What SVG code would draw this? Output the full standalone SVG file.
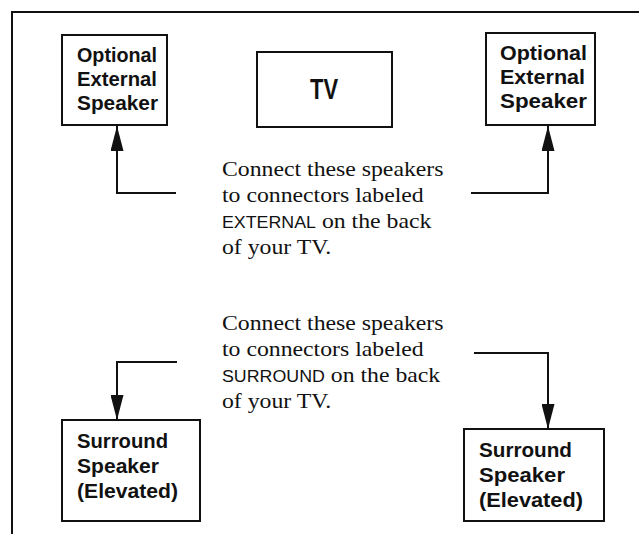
<svg xmlns="http://www.w3.org/2000/svg" width="639" height="534" viewBox="0 0 639 534">
<style>
.box{fill:#fff;stroke:#111;stroke-width:2}
.lbl{font-family:"Liberation Sans",Arial,sans-serif;font-weight:bold;font-size:21px;fill:#111}
.tv{font-family:"Liberation Sans",Arial,sans-serif;font-weight:bold;font-size:29px;fill:#111}
.body{font-family:"Liberation Serif","Times New Roman",serif;font-size:22px;fill:#111}
.sc{font-family:"Liberation Sans",Arial,sans-serif;font-size:16.5px}
.conn{fill:none;stroke:#111;stroke-width:2}
.frame{fill:none;stroke:#111;stroke-width:2}
</style>
<defs>
<marker id="ah" viewBox="0 0 25 13" markerWidth="25" markerHeight="13" refX="25" refY="6.5" orient="auto" markerUnits="userSpaceOnUse">
<path d="M0,0 L25,6.5 L0,13 z" fill="#111"/>
</marker>
</defs>
<path class="frame" d="M12,534 V12 H639"/>
<g id="speaker-ext-left">
<rect class="box" x="62" y="35" width="105" height="90"/>
<text class="lbl" x="77" y="62" textLength="80" lengthAdjust="spacingAndGlyphs">Optional</text>
<text class="lbl" x="77" y="86" textLength="80" lengthAdjust="spacingAndGlyphs">External</text>
<text class="lbl" x="77" y="110" textLength="81" lengthAdjust="spacingAndGlyphs">Speaker</text>
</g>
<g id="tv">
<rect class="box" x="257" y="52" width="135" height="75"/>
<text class="tv" x="310" y="99" textLength="28" lengthAdjust="spacingAndGlyphs">TV</text>
</g>
<g id="speaker-ext-right">
<rect class="box" x="486" y="33" width="109" height="92"/>
<text class="lbl" x="500" y="60" textLength="87" lengthAdjust="spacingAndGlyphs">Optional</text>
<text class="lbl" x="500" y="84" textLength="85" lengthAdjust="spacingAndGlyphs">External</text>
<text class="lbl" x="500" y="108" textLength="87" lengthAdjust="spacingAndGlyphs">Speaker</text>
</g>
<g id="note-external" transform="translate(222,0) scale(1.08,1)">
<text class="body" x="0" y="176">Connect these speakers</text>
<text class="body" x="0" y="202">to connectors labeled</text>
<text class="body" x="0" y="228"><tspan class="sc">EXTERNAL</tspan> on the back</text>
<text class="body" x="0" y="254">of your TV.</text>
</g>
<g id="note-surround" transform="translate(222,0) scale(1.08,1)">
<text class="body" x="0" y="330">Connect these speakers</text>
<text class="body" x="0" y="356">to connectors labeled</text>
<text class="body" x="0" y="382"><tspan class="sc">SURROUND</tspan> on the back</text>
<text class="body" x="0" y="408">of your TV.</text>
</g>
<g id="speaker-sur-left">
<rect class="box" x="62" y="420" width="138" height="101"/>
<text class="lbl" x="77" y="448" textLength="91" lengthAdjust="spacingAndGlyphs">Surround</text>
<text class="lbl" x="77" y="473" textLength="82" lengthAdjust="spacingAndGlyphs">Speaker</text>
<text class="lbl" x="77" y="498" textLength="101" lengthAdjust="spacingAndGlyphs">(Elevated)</text>
</g>
<g id="speaker-sur-right">
<rect class="box" x="464" y="429" width="140" height="92"/>
<text class="lbl" x="479" y="457" textLength="93" lengthAdjust="spacingAndGlyphs">Surround</text>
<text class="lbl" x="479" y="482" textLength="86" lengthAdjust="spacingAndGlyphs">Speaker</text>
<text class="lbl" x="479" y="507" textLength="104" lengthAdjust="spacingAndGlyphs">(Elevated)</text>
</g>
<g id="connectors">
<path class="conn" d="M176,193 H117 V126" marker-end="url(#ah)"/>
<path class="conn" d="M471,193 H548 V126" marker-end="url(#ah)"/>
<path class="conn" d="M177,362 H117 V420" marker-end="url(#ah)"/>
<path class="conn" d="M474,353 H548 V429" marker-end="url(#ah)"/>
</g>
</svg>
